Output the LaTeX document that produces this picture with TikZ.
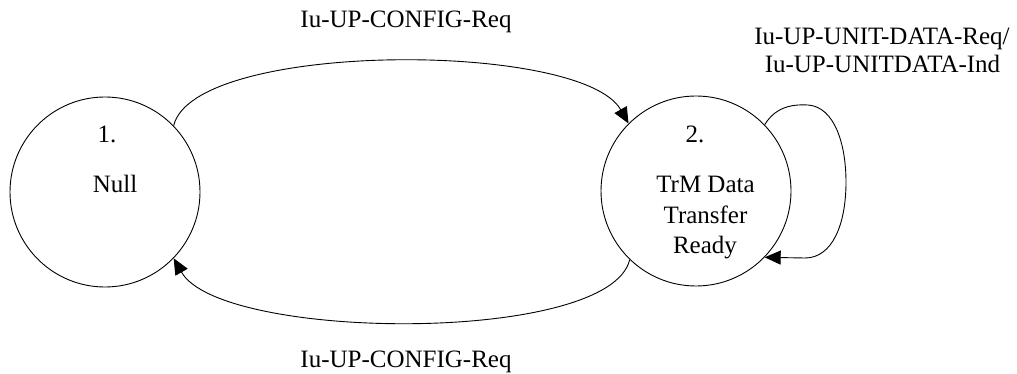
\documentclass[tikz,border=0pt]{standalone}
\usepackage{fontspec}
\setmainfont{Liberation Serif}
\usetikzlibrary{arrows.meta}
\begin{document}
\begin{tikzpicture}[x=1pt,y=-1pt,
  state/.style={draw, circle, minimum size=190pt, inner sep=0pt, line width=0.9pt},
  txt/.style={anchor=base, inner sep=0pt, font=\fontsize{25pt}{30pt}\selectfont},
  conn/.style={line width=0.9pt, -{Triangle[length=16pt,width=14pt]}}]
\useasboundingbox (0,0) rectangle (1017,374);
\node[state] (s1) at (105,192) {};
\node[state] (s2) at (696,191) {};
\node[txt] (l1) at (107,143) {1.};
\node[txt] (l1b) at (115,193) {Null};
\node[txt] (l2) at (695,143) {2.};
\node[txt] (l2a) at (705.5,193) {TrM Data};
\node[txt] (l2b) at (705.5,223) {Transfer};
\node[txt] (l2c) at (705,253) {Ready};
\node[txt] (ta) at (406,28) {Iu-UP-CONFIG-Req};
\node[txt] (tb) at (406,367) {Iu-UP-CONFIG-Req};
\node[txt] (tc1) at (882,45) {Iu-UP-UNIT-DATA-Req/};
\node[txt] (tc2) at (882.5,73) {Iu-UP-UNITDATA-Ind};
\draw[conn] (s1.44) .. controls +(20,-85) and +(-47,-83) .. (s2.135);
\draw[conn] (s2.226) .. controls +(-20,85) and +(47,83) .. (s1.-44);
\draw[conn] (s2.44) .. controls (775,108) and (790,104) .. (808,105)
  .. controls (835,107) and (846,145) .. (846,182)
  .. controls (846,225) and (832,258) .. (805,258) -- (s2.-44);
\end{tikzpicture}
\end{document}
